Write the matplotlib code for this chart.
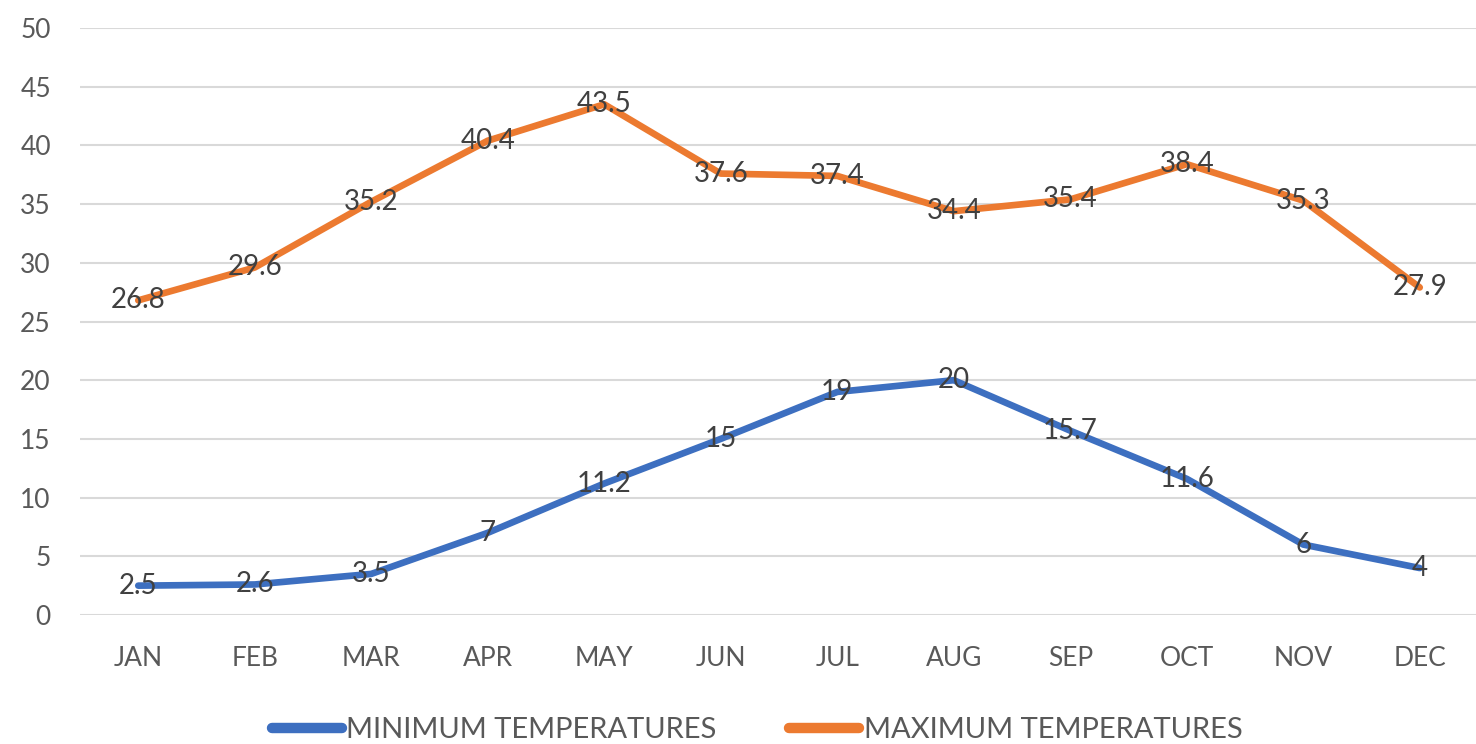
import matplotlib
matplotlib.use('Agg')
import matplotlib.pyplot as plt

# ---- data ----
MONTHS = ['JAN', 'FEB', 'MAR', 'APR', 'MAY', 'JUN',
          'JUL', 'AUG', 'SEP', 'OCT', 'NOV', 'DEC']
MIN_TEMPS = [2.5, 2.6, 3.5, 7, 11.2, 15, 19, 20, 15.7, 11.6, 6, 4]
MAX_TEMPS = [26.8, 29.6, 35.2, 40.4, 43.5, 37.6, 37.4, 34.4, 35.4, 38.4, 35.3, 27.9]
Y_TICKS = list(range(0, 55, 5))

BLUE = '#3d6fc0'
ORANGE = '#ec7a30'
TEXT = '#595959'
LABEL = '#404040'

plt.rcParams['font.family'] = ['Lato', 'DejaVu Sans']

fig = plt.figure(figsize=(14.76, 7.44), dpi=100)
ax = fig.add_axes([80 / 1476, 129 / 744, 1398 / 1476, 587 / 744])

x = list(range(len(MONTHS)))
ax.plot(x, MIN_TEMPS, color=BLUE, lw=4.8, solid_joinstyle='round',
        solid_capstyle='round', label='MINIMUM TEMPERATURES', zorder=3)
ax.plot(x, MAX_TEMPS, color=ORANGE, lw=4.8, solid_joinstyle='round',
        solid_capstyle='round', label='MAXIMUM TEMPERATURES', zorder=3)

for xi, v in zip(x, MIN_TEMPS):
    ax.text(xi, v, f'{v:g}', ha='center', va='center', fontsize=20,
            color=LABEL, zorder=4)
for xi, v in zip(x, MAX_TEMPS):
    ax.text(xi, v, f'{v:g}', ha='center', va='center', fontsize=20,
            color=LABEL, zorder=4)

ax.set_xlim(-0.5, len(MONTHS) - 0.5)
ax.set_ylim(0, 50)
ax.set_yticks(Y_TICKS)
ax.set_xticks(x)
ax.set_xticklabels(MONTHS)
ax.tick_params(axis='both', length=0, labelsize=19, colors=TEXT)
ax.tick_params(axis='x', pad=22)
ax.tick_params(axis='y', pad=21)
ax.grid(axis='y', color='#d9d9d9', lw=1.5)
ax.set_axisbelow(True)
for s in ax.spines.values():
    s.set_visible(False)

leg = fig.legend(loc='center', bbox_to_anchor=(0.513, 0.019), ncol=2,
                 frameon=False, fontsize=21, handlelength=2.4,
                 handletextpad=0.15, columnspacing=2.5)
for t in leg.get_texts():
    t.set_color(TEXT)
for h in leg.get_lines():
    h.set_linewidth(7.5)
    h.set_solid_capstyle('round')

fig.savefig('out.png', dpi=100, facecolor='white')
